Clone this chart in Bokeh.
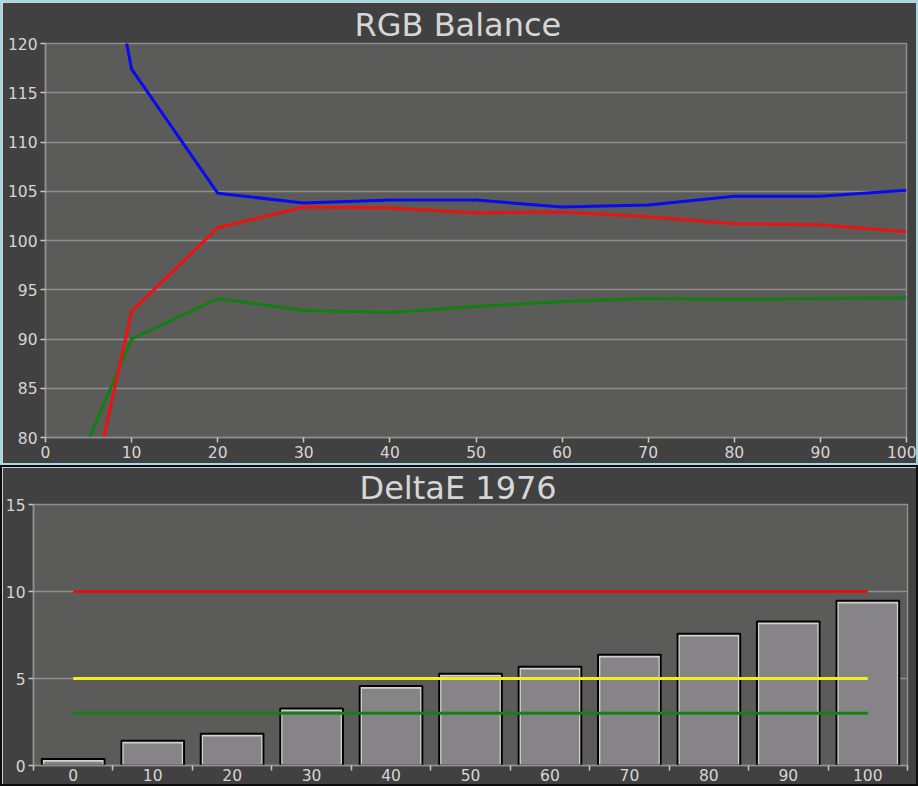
from bokeh.plotting import figure
from bokeh.models import FixedTicker, Range1d
from bokeh.embed import file_html
from bokeh.resources import INLINE

# ---------------- data ----------------
levels = [0, 10, 20, 30, 40, 50, 60, 70, 80, 90, 100]
red_vals = [53.4, 92.8, 101.3, 103.4, 103.3, 102.8, 102.9, 102.4, 101.7, 101.6, 100.9]
green_vals = [69.5, 90.0, 94.1, 92.9, 92.7, 93.3, 93.8, 94.1, 94.0, 94.1, 94.2]
blue_vals = [162.6, 117.4, 104.8, 103.8, 104.1, 104.1, 103.4, 103.6, 104.5, 104.5, 105.1]

delta_labels = ["0", "10", "20", "30", "40", "50", "60", "70", "80", "90", "100"]
delta_e = [0.3, 1.35, 1.75, 3.2, 4.5, 5.2, 5.6, 6.3, 7.5, 8.2, 9.4]
limit_high = 10
limit_mid = 5
limit_low = 3

# ---------------- styling ----------------
BG = "#414141"
PLOT_BG = "#5b5c5a"
GRID = "#8e8e8e"
TXT = "#d6d6d6"
FONT = "DejaVu Sans"


def style(p):
    p.background_fill_color = PLOT_BG
    p.border_fill_color = BG
    p.outline_line_color = GRID
    p.outline_line_width = 1.5
    p.xgrid.grid_line_color = None
    p.ygrid.grid_line_color = GRID
    p.ygrid.grid_line_width = 1.5
    p.title.align = "left"
    p.title.text_color = TXT
    p.title.text_font = FONT
    p.title.text_font_style = "normal"
    p.title.text_font_size = "32px"
    p.title.standoff = 0
    for ax in (p.xaxis[0], p.yaxis[0]):
        ax.axis_line_color = GRID
        ax.axis_line_width = 1.5
        ax.major_tick_line_color = "#c8c8c8"
        ax.major_tick_line_width = 1.5
        ax.minor_tick_line_color = None
        ax.major_tick_in = 0
        ax.major_tick_out = 5
        ax.major_label_text_color = TXT
        ax.major_label_text_font = FONT
        ax.major_label_text_font_size = "15.5px"
        ax.major_label_standoff = 3


# ---------------- top: RGB Balance ----------------
p1 = figure(width=918, height=465, output_backend="svg", toolbar_location=None,
            title="RGB Balance", x_range=Range1d(0, 100), y_range=Range1d(80, 120),
            min_border_left=43, min_border_right=14, min_border_top=41, min_border_bottom=30)
style(p1)
p1.title.offset = 309
p1.xaxis.ticker = FixedTicker(ticks=levels)
p1.yaxis.ticker = FixedTicker(ticks=[80, 85, 90, 95, 100, 105, 110, 115, 120])
p1.line(levels, green_vals, line_color="#118011", line_width=3)
p1.line(levels, red_vals, line_color="#ee1111", line_width=3)
p1.line(levels, blue_vals, line_color="#0a0af0", line_width=3)
p1.styles = {"border": "2px solid #a8d6e2", "box-sizing": "border-box"}

# ---------------- bottom: DeltaE 1976 ----------------
idx = list(range(len(delta_labels)))
bounds = [i - 0.5 for i in idx] + [idx[-1] + 0.5]

p2 = figure(width=918, height=321, output_backend="svg", toolbar_location=None,
            title="DeltaE 1976", x_range=Range1d(-0.5, idx[-1] + 0.5), y_range=Range1d(0, 15),
            min_border_left=31, min_border_right=13, min_border_top=37, min_border_bottom=23)
style(p2)
p2.title.offset = 326
p2.title.standoff = -4
p2.xaxis.ticker = FixedTicker(ticks=idx, minor_ticks=bounds)
p2.xaxis.major_label_overrides = {i: lab for i, lab in zip(idx, delta_labels)}
p2.xaxis.major_tick_out = 0
p2.xaxis.major_label_standoff = -2
p2.xaxis.minor_tick_line_color = "#c8c8c8"
p2.xaxis.minor_tick_line_width = 1.5
p2.xaxis.minor_tick_in = 0
p2.xaxis.minor_tick_out = 5
p2.yaxis.ticker = FixedTicker(ticks=[0, 5, 10, 15])

p2.vbar(x=idx, top=delta_e, width=0.77, bottom=0,
        fill_color="#868486", line_color="#d2d2d2", line_width=3)
p2.vbar(x=idx, top=[v + 0.07 for v in delta_e], width=0.79, bottom=0,
        fill_color=None, line_color="#000000", line_width=2)

p2.line([idx[0], idx[-1]], [limit_high, limit_high], line_color="#e01010", line_width=3)
p2.line([idx[0], idx[-1]], [limit_mid, limit_mid], line_color="#f0f020", line_width=3)
p2.line([idx[0], idx[-1]], [limit_low, limit_low], line_color="#138213", line_width=3)
p2.styles = {"border": "2px solid #0c0c0c", "box-sizing": "border-box"}

open("out.html", "w").write(file_html([p1, p2], INLINE))
